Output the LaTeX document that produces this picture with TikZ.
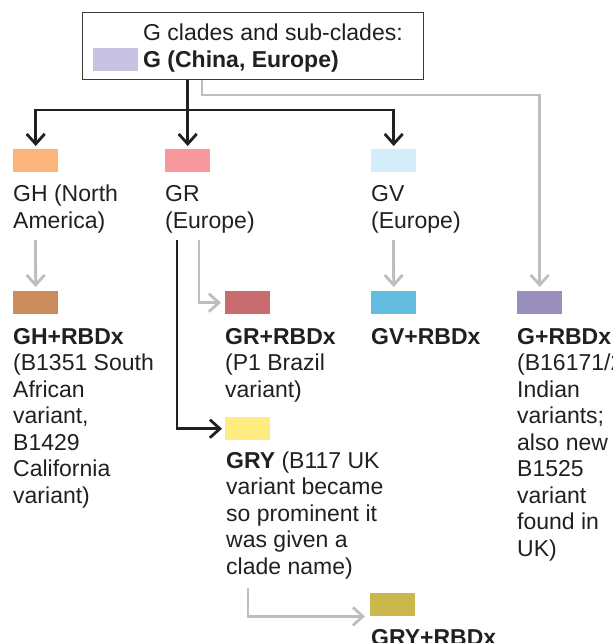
\documentclass[tikz,border=0pt]{standalone}
\usepackage{fontspec}
\setmainfont{Liberation Sans}
\usepackage{tikz}
\usetikzlibrary{arrows.meta, positioning, calc}
\usepackage{xcolor}
\definecolor{inkdark}{HTML}{231F20}
\definecolor{boxgrey}{HTML}{3A3A3A}
\definecolor{linegrey}{HTML}{BEBEC1}
\definecolor{gcol}{HTML}{C8C3E2}
\definecolor{ghcol}{HTML}{FBB47A}
\definecolor{grcol}{HTML}{F7989E}
\definecolor{gvcol}{HTML}{D4EDFA}
\definecolor{ghrcol}{HTML}{CD8C5B}
\definecolor{grrcol}{HTML}{C86B6E}
\definecolor{gvrcol}{HTML}{62BDE0}
\definecolor{gpluscol}{HTML}{9A8FBC}
\definecolor{grycol}{HTML}{FFEC80}
\definecolor{gryrcol}{HTML}{CAB84C}
\tikzstyle{swatch} = [rectangle, minimum width=45pt, minimum height=23pt, inner sep=0pt, anchor=north west]
% placed at the baseline of the last line
\tikzstyle{cladetext} = [anchor=base west, align=left, inner sep=0pt, text=inkdark, font=\fontsize{23}{26.5}\selectfont]
\tikzstyle{blackarrow} = [line width=2.8pt, draw=inkdark, -{Straight Barb[length=10pt,width=18pt]}, shorten >=3pt]
\tikzstyle{greyarrow} = [line width=2.8pt, draw=linegrey, -{Straight Barb[length=10pt,width=18pt]}, shorten >=4pt]

\begin{document}
\begin{tikzpicture}[x=1pt, y=-1pt]
  \useasboundingbox (0,0) rectangle (613,643);

  % Top box
  \node[draw=boxgrey, line width=1.2pt, fill=white, minimum width=341pt, minimum height=67pt, inner sep=0pt, anchor=north west] (gbox) at (82,12) {};
  \node[swatch, fill=gcol] (gsw) at (93,48) {};
  \node[cladetext] (glab) at (143,67) {G clades and sub-clades:\\\textbf{G (China, Europe)}};

  % Clades
  \node[swatch, fill=ghcol] (ghsw) at (13,149) {};
  \node[swatch, fill=grcol] (grsw) at (165,149) {};
  \node[swatch, fill=gvcol] (gvsw) at (371,149) {};
  \node[cladetext] (ghlab) at (13,228) {GH (North\\America)};
  \node[cladetext] (grlab) at (165,228) {GR\\(Europe)};
  \node[cladetext] (gvlab) at (371,228) {GV\\(Europe)};

  % Sub-clades
  \node[swatch, fill=ghrcol] (ghrsw) at (13,291) {};
  \node[swatch, fill=grrcol] (grrsw) at (225,291) {};
  \node[swatch, fill=gvrcol] (gvrsw) at (371,291) {};
  \node[swatch, fill=gpluscol] (gplussw) at (517,291) {};
  \node[cladetext] (ghrlab) at (13,503) {\textbf{GH+RBDx}\\(B1351 South\\African\\variant,\\B1429\\California\\variant)};
  \node[cladetext] (grrlab) at (225,397) {\textbf{GR+RBDx}\\(P1 Brazil\\variant)};
  \node[cladetext] (gvrlab) at (371,344) {\textbf{GV+RBDx}};
  \node[cladetext] (gpluslab) at (517,556) {\textbf{G+RBDx}\\(B16171/2\\Indian\\variants;\\also new\\B1525\\variant\\found in\\UK)};

  % GRY
  \node[swatch, fill=grycol] (grysw) at (225,417) {};
  \node[cladetext] (grylab) at (226,574) {\textbf{GRY} (B117 UK\\variant became\\so prominent it\\was given a\\clade name)};
  \node[swatch, fill=gryrcol] (gryrsw) at (370,593) {};
  \node[cladetext] (gryrlab) at (371,645) {\textbf{GRY+RBDx}};

  % Connections
  \coordinate (split) at (187.5,110);
  \coordinate (gbend) at (202,95);
  \coordinate (ghout) at (35.5,240);
  \coordinate (gvout) at (393.5,240);
  \coordinate (grout) at (199,240);
  \coordinate (gryroot) at (177,240);
  \coordinate (gryout) at (248,588);
  \draw[greyarrow] (gbox.south -| gbend) -- (gbend) -| (gplussw.north);
  \draw[blackarrow] (gbox.south -| grsw.north) -- (grsw.north);
  \draw[blackarrow] (split) -| (ghsw.north);
  \draw[blackarrow] (split) -| (gvsw.north);
  \draw[greyarrow] (ghout) -- (ghrsw.north);
  \draw[greyarrow] (gvout) -- (gvrsw.north);
  \draw[greyarrow] (grout) |- (grrsw.west);
  \draw[blackarrow] (gryroot) |- (grysw.west);
  \draw[greyarrow, shorten >=5pt] (gryout) |- (gryrsw.south west);
\end{tikzpicture}
\end{document}
